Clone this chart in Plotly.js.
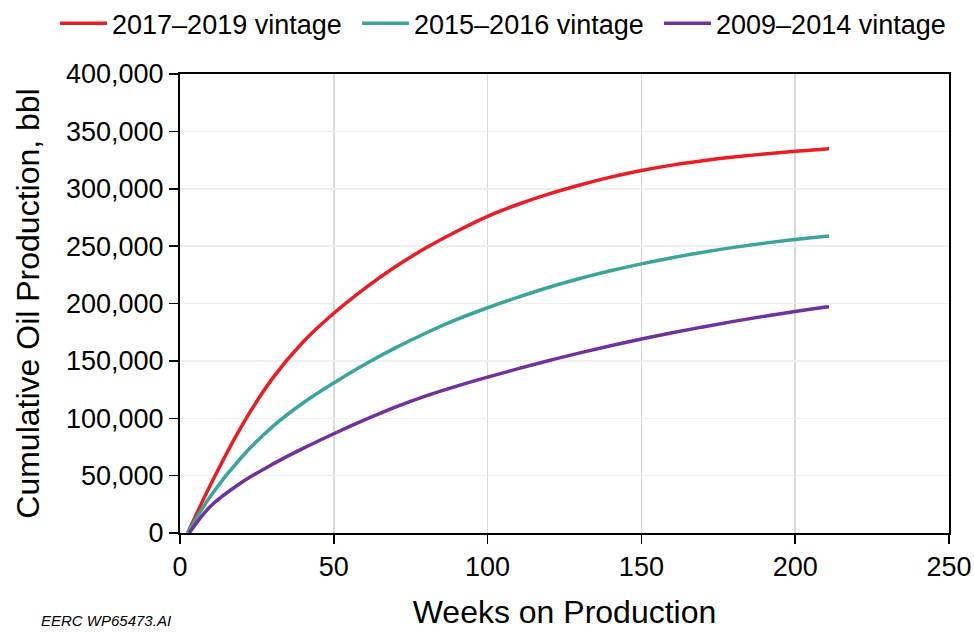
<!DOCTYPE html>
<html>
<head>
<meta charset="utf-8">
<script src="https://cdn.plot.ly/plotly-3.0.1.min.js"></script>
<style>
  html, body { margin: 0; padding: 0; background: #ffffff; }
  #chart { width: 974px; height: 632px; }
</style>
</head>
<body>
<div id="chart"></div>
<script>
// Cumulative oil production by well vintage (bbl) vs. weeks on production
const seriesNames = ["2017\u20132019 vintage", "2015\u20132016 vintage", "2009\u20132014 vintage"];
const seriesColors = ["#ec1c24", "#3aa59c", "#7030a0"];

const weeks2017 = [2.5, 10, 20, 30, 40, 50, 60, 70, 80, 90, 100, 110, 120, 130, 140, 150, 160, 170, 180, 190, 200, 210, 211];
const oil2017   = [0, 42500, 93000, 134500, 166500, 191500, 213000, 232000, 248500, 263000, 276000, 286500, 295500, 303300, 310100, 315900, 320600, 324400, 327600, 330300, 332600, 334600, 334800];

const weeks2015 = [2.5, 10, 20, 30, 40, 50, 60, 70, 80, 90, 100, 110, 120, 130, 140, 150, 160, 170, 180, 190, 200, 210, 211];
const oil2015   = [0, 32500, 66000, 92500, 113300, 130800, 146800, 161300, 174300, 186100, 196300, 205600, 214200, 221800, 228500, 234500, 239900, 244700, 248900, 252600, 255800, 258600, 258900];

const weeks2009 = [3, 10, 20, 30, 40, 50, 60, 70, 80, 90, 100, 110, 120, 130, 140, 150, 160, 170, 180, 190, 200, 210, 211];
const oil2009   = [0, 23500, 44000, 59800, 73700, 86500, 98500, 109700, 119500, 128000, 135800, 143200, 150300, 157000, 163200, 169000, 174500, 179600, 184400, 188900, 193100, 196900, 197200];

const xTickVals = [0, 50, 100, 150, 200, 250];
const yTickVals = [0, 50000, 100000, 150000, 200000, 250000, 300000, 350000, 400000];
const yTickText = ["0", "50,000", "100,000", "150,000", "200,000", "250,000", "300,000", "350,000", "400,000"];

const baseFont = "Liberation Sans, Arial, sans-serif";

function lineTrace(x, y, i) {
  return {
    type: "scatter",
    mode: "lines",
    x: x,
    y: y,
    name: seriesNames[i],
    line: { color: seriesColors[i], width: 3.5, shape: "spline", smoothing: 1 },
    hoverinfo: "skip"
  };
}

const data = [
  lineTrace(weeks2017, oil2017, 0),
  lineTrace(weeks2015, oil2015, 1),
  lineTrace(weeks2009, oil2009, 2)
];

const layout = {
  width: 974,
  height: 632,
  paper_bgcolor: "#ffffff",
  plot_bgcolor: "#ffffff",
  margin: { l: 180, r: 25, t: 74, b: 99, pad: 0, autoexpand: false },
  font: { family: baseFont, color: "#000000" },
  showlegend: true,
  legend: {
    orientation: "h",
    xref: "paper", yref: "paper",
    x: -0.1625, y: 1.163, xanchor: "left", yanchor: "top",
    font: { family: baseFont, size: 27, color: "#000000" },
    itemwidth: 47,
    entrywidth: 240,
    entrywidthmode: "pixels",
    bgcolor: "rgba(0,0,0,0)"
  },
  xaxis: {
    range: [0, 250],
    tickvals: xTickVals,
    ticks: "outside",
    ticklen: 9,
    tickwidth: 1.5,
    tickcolor: "#000000",
    showline: true,
    linecolor: "#000000",
    linewidth: 2,
    mirror: true,
    showgrid: true,
    gridcolor: "#d9d9d9",
    gridwidth: 1.5,
    zeroline: false,
    tickfont: { family: baseFont, size: 27, color: "#000000" },
    title: { text: "Weeks on Production", font: { family: baseFont, size: 32, color: "#000000" }, standoff: 19 }
  },
  yaxis: {
    range: [0, 400000],
    tickvals: yTickVals,
    ticktext: yTickText,
    ticks: "outside",
    ticklen: 9,
    tickwidth: 1.5,
    tickcolor: "#000000",
    showline: true,
    linecolor: "#000000",
    linewidth: 2,
    mirror: true,
    showgrid: true,
    gridcolor: "#efefef",
    gridwidth: 1.5,
    zeroline: false,
    tickfont: { family: baseFont, size: 27, color: "#000000" },
    title: { text: "Cumulative Oil Production, bbl", font: { family: baseFont, size: 32, color: "#000000" }, standoff: 17 }
  },
  annotations: [
    {
      text: "<i>EERC WP65473.AI</i>",
      xref: "paper", yref: "paper",
      x: -0.184, y: -0.19,
      xanchor: "left", yanchor: "middle",
      showarrow: false,
      font: { family: baseFont, size: 15, color: "#000000" }
    }
  ]
};

Plotly.newPlot("chart", data, layout, { displayModeBar: false, staticPlot: true });
</script>
</body>
</html>
